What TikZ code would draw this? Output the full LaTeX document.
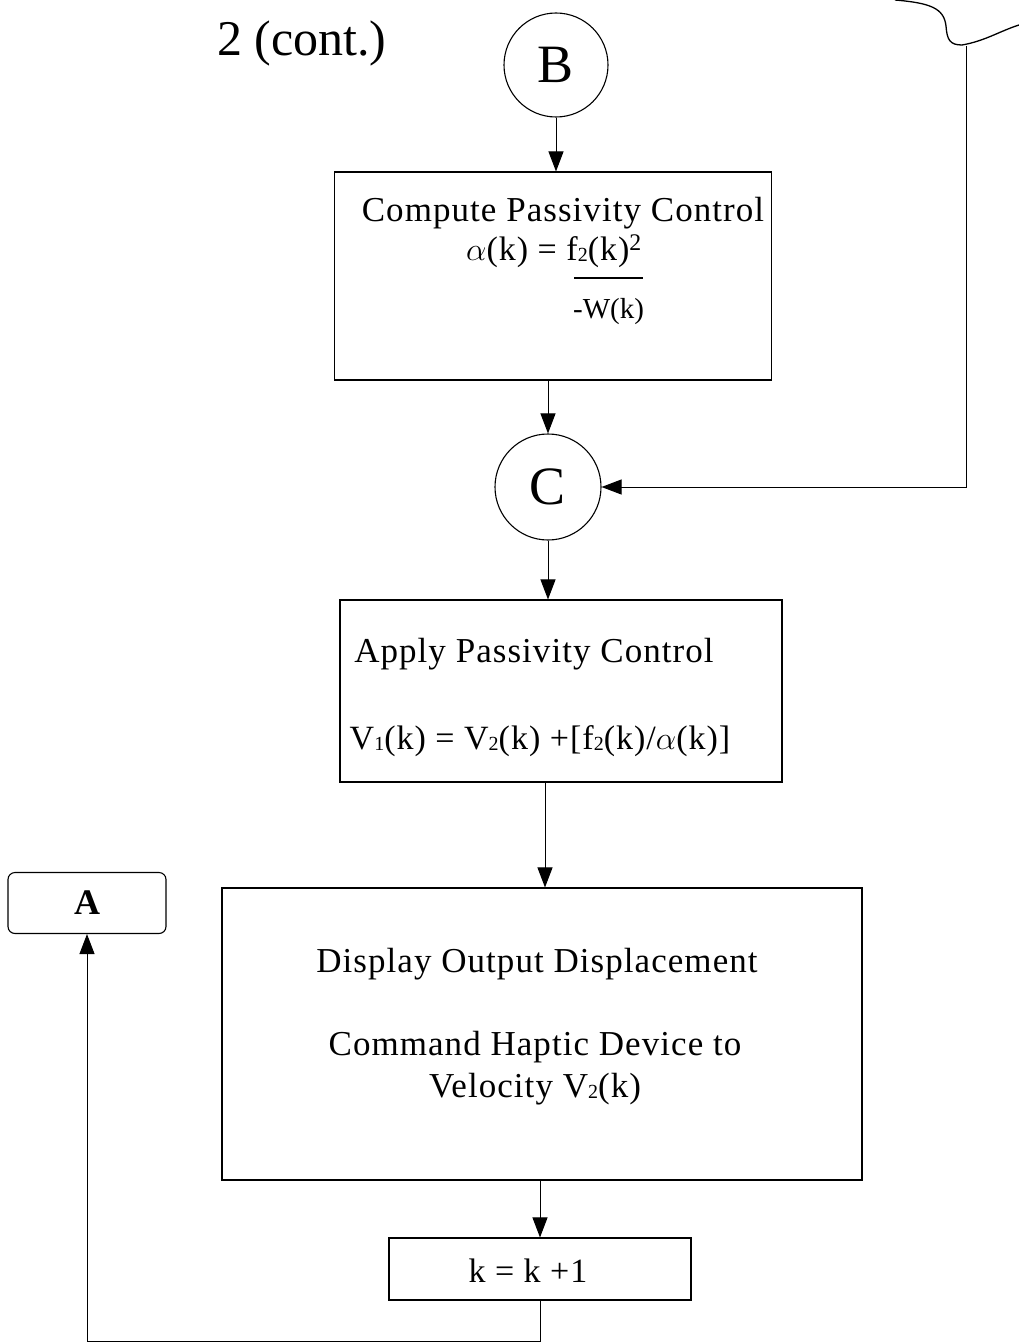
\documentclass[tikz,border=0pt]{standalone}
\usepackage{fontspec}
\usepackage{graphicx}
\setmainfont{Liberation Serif}
\newfontfamily\spacedfont[LetterSpace=3]{Liberation Serif}
\usetikzlibrary{arrows.meta}
\newcommand\smallsub[1]{\raisebox{-1pt}{\fontsize{20}{20}\selectfont #1}}
\newcommand\bigalpha{\scalebox{1.3}{$\alpha$}}
\begin{document}
\begin{tikzpicture}[x=1pt,y=-1pt,
  box/.style={draw, line width=1.1pt, inner sep=0pt, rectangle},
  circ/.style={draw, line width=1.1pt, circle, inner sep=0pt, font=\fontsize{54}{54}\selectfont},
  arr/.style={-{Triangle[length=20pt,width=15pt]}, line width=1pt},
  ttl/.style={font=\spacedfont\fontsize{35}{40}\selectfont, inner sep=0pt},
  eq/.style={font=\spacedfont\fontsize{34}{40}\selectfont, inner sep=0pt},
]
\useasboundingbox (0,0) rectangle (1019,1343);

% header
\node[font=\fontsize{50}{56}\selectfont, anchor=base west, inner sep=0pt] (hdr) at (217,56) {2 (cont.)};

% connector nodes
\node[circ, minimum size=104pt] (B) at (556,65) {B};
\node[circ, minimum size=106pt] (C) at (548,487) {C};

% boxes
\node[box, minimum width=437pt, minimum height=208pt] (box1) at (553,276) {};
\node[box, minimum width=442pt, minimum height=182pt] (box2) at (561,691) {};
\node[box, minimum width=640pt, minimum height=292pt] (box3) at (542,1034) {};
\node[box, minimum width=302pt, minimum height=62pt] (box4) at (540,1269) {};
\node[box, rounded corners=7pt, minimum width=158pt, minimum height=61pt,
      font=\bfseries\fontsize{36}{36}\selectfont] (A) at (87,903) {A};

% box 1 text
\node[ttl, anchor=base] (t1) at (563,222) {Compute Passivity Control};
\node[eq, anchor=base west] (t1b) at (466,260) {\bigalpha(k) = f\smallsub{2}(k)\textsuperscript{2}};
\draw[line width=1.1pt] (574,278) -- (643,278);
\node[font=\fontsize{29}{34}\selectfont, inner sep=0pt, anchor=base west] (t1c) at (573,318) {-W(k)};

% box 2 text
\node[ttl, anchor=base] (t2) at (534,662) {Apply Passivity Control};
\node[eq, anchor=base] (t2b) at (540,749) {V\smallsub{1}(k) = V\smallsub{2}(k) +[f\smallsub{2}(k)/\bigalpha(k)]};

% box 3 text
\node[ttl, anchor=base] (t3) at (537,972) {Display Output Displacement};
\node[ttl, anchor=base] (t3b) at (535,1055) {Command Haptic Device to};
\node[ttl, anchor=base] (t3c) at (535,1097) {Velocity V\smallsub{2}(k)};

% box 4 text
\node[eq, anchor=base] (t4) at (528,1282) {k = k +1};

% connectors
\draw[arr] (B.south) -- (B.south |- box1.north);
\draw[arr] (C.north |- box1.south) -- (C.north);
\draw[arr] (C.south) -- (C.south |- box2.north);
\coordinate (d2) at (545,782);
\draw[arr] (d2) -- (d2 |- box3.north);
\draw[arr] (box4.north |- box3.south) -- (box4.north);
\coordinate (bot) at (0,1341);
\draw[arr] (box4.south) -- (box4.south |- bot) -- (A.south |- bot) -- (A.south);

% brace fragment and feedback
\draw[line width=1.3pt] (895,0) .. controls (930,3) and (944,8) .. (946,26)
  .. controls (947,40) and (950,45) .. (962,45)
  .. controls (985,41) and (1000,31) .. (1019,25);
\coordinate (fb) at (966,46);
\draw[arr] (fb) |- (C.east);
\end{tikzpicture}
\end{document}
